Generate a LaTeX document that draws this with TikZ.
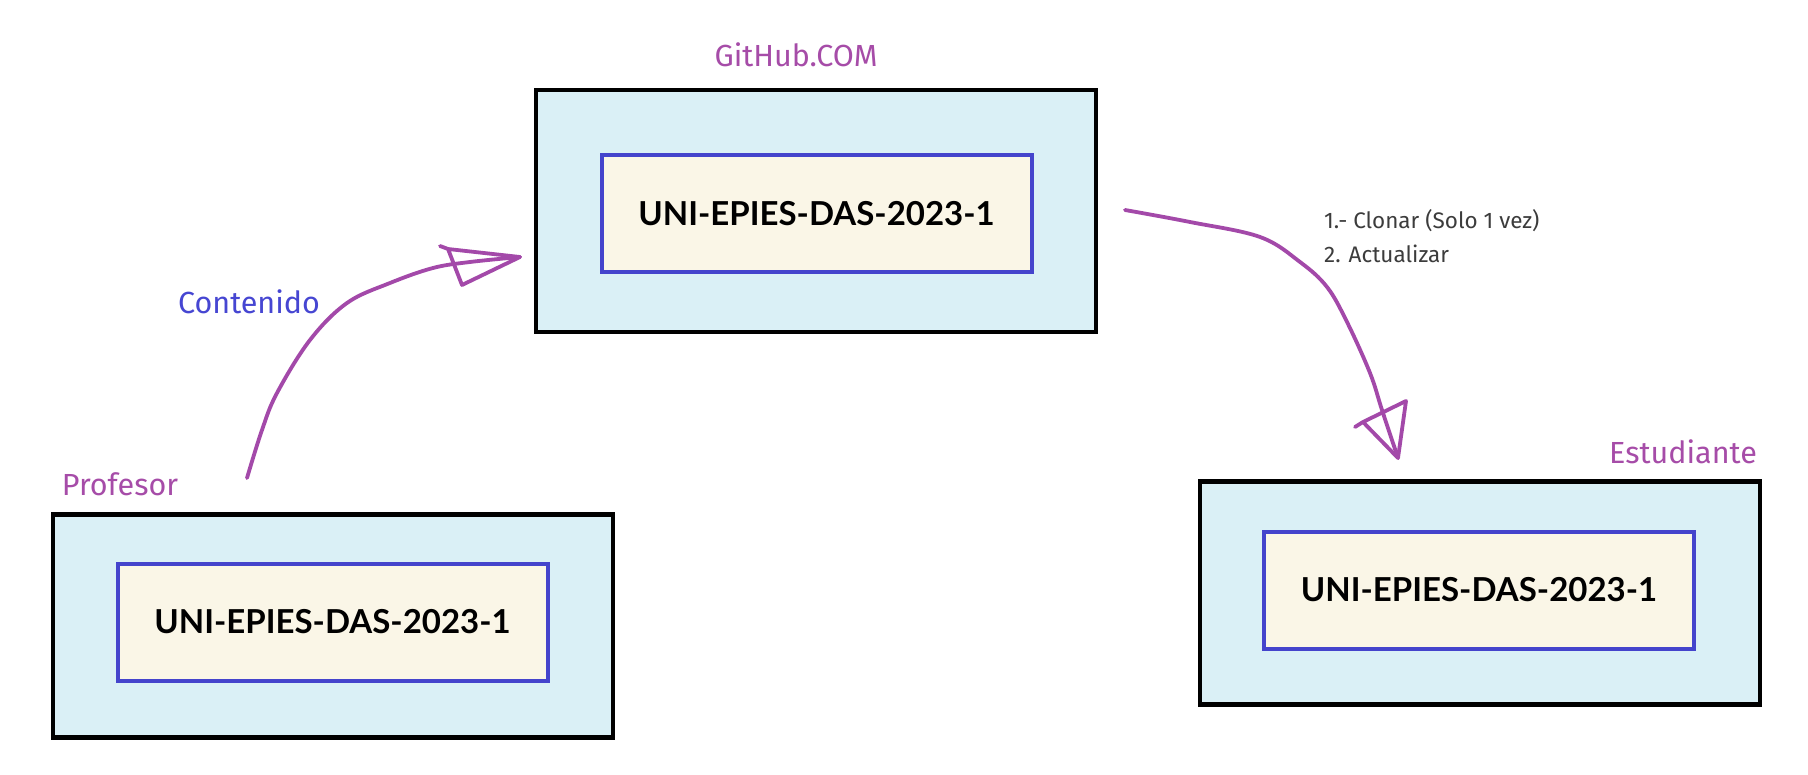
\documentclass[tikz,border=0pt]{standalone}
\usepackage{fontspec}
\setmainfont{Lato}
\newfontfamily\labelfont{Fira Sans}
\definecolor{purp}{HTML}{A64CA8}
\definecolor{arrowpurp}{HTML}{A349A9}
\definecolor{contblue}{HTML}{4646D2}
\definecolor{outerfill}{HTML}{DAF0F6}
\definecolor{innerfill}{HTML}{FAF6E7}
\definecolor{innerborder}{HTML}{4444CC}
\definecolor{notegray}{HTML}{3C3C3C}
\tikzset{
  outerbox/.style={draw=black, line width=4.5pt, fill=outerfill, minimum width=560pt, minimum height=223pt, inner sep=0pt},
  innerbox/.style={draw=innerborder, line width=4pt, fill=innerfill, minimum width=430pt, minimum height=117pt, inner sep=0pt, font=\fontsize{33}{38}\selectfont\bfseries},
  purplabel/.style={text=purp, font=\labelfont\fontsize{30.5}{34}\selectfont, inner sep=0pt},
  handline/.style={draw=arrowpurp, line width=3.8pt, line cap=round, line join=round},
}
\begin{document}
\begin{tikzpicture}[x=1pt,y=-1pt]
\useasboundingbox (0,0) rectangle (1808,775);
\fill[white] (0,0) rectangle (1808,775);
% boxes
\node[outerbox, minimum height=242pt] (gh) at (816,211) {};
\node[innerbox] (ghin) at (816.5,214) {UNI-EPIES-DAS-2023-1};
\node[outerbox] (prof) at (333,626) {};
\node[innerbox] (profin) at (332.5,622) {UNI-EPIES-DAS-2023-1};
\node[outerbox] (est) at (1480,593) {};
\node[innerbox] (estin) at (1479,590) {UNI-EPIES-DAS-2023-1};
% labels
\node[purplabel] (ghlbl) at (796,55) {GitHub.COM};
\node[purplabel] (proflbl) at (120,484) {Profesor};
\node[purplabel] (estlbl) at (1683,452) {Estudiante};
\node[text=contblue, font=\labelfont\fontsize{30.5}{34}\selectfont, inner sep=0pt] (cont) at (249,302) {Contenido};
\node[text=notegray, font=\labelfont\fontsize{22.5}{34}\selectfont, align=left, anchor=north west, inner sep=0pt] (note) at (1324,209) {1.- Clonar (Solo 1 vez)\\2. Actualizar};
% arrow 1: Profesor -> GitHub
\coordinate (a1s) at (247,478);
\coordinate (a1t) at (520,257);
\draw[handline] plot[smooth, tension=0.6] coordinates {(a1s) (262,430) (277,393) (310,340) (347,303) (390,283) (433,268) (470,262) (a1t)};
\draw[handline] (440,246) -- (448,249) -- (a1t) -- (462,285) -- (448,249);
% arrow 2: GitHub -> Estudiante
\coordinate (a2s) at (1125,210);
\coordinate (a2t) at (1398,458);
\draw[handline] plot[smooth, tension=0.6] coordinates {(a2s) (1190,222) (1260,237) (1300,262) (1327,287) (1347,322) (1370,373) (1382,410) (a2t)};
\draw[handline] (1355,427) -- (1363,422) -- (1406,401) -- (a2t) -- (1363,422);
\end{tikzpicture}
\end{document}
